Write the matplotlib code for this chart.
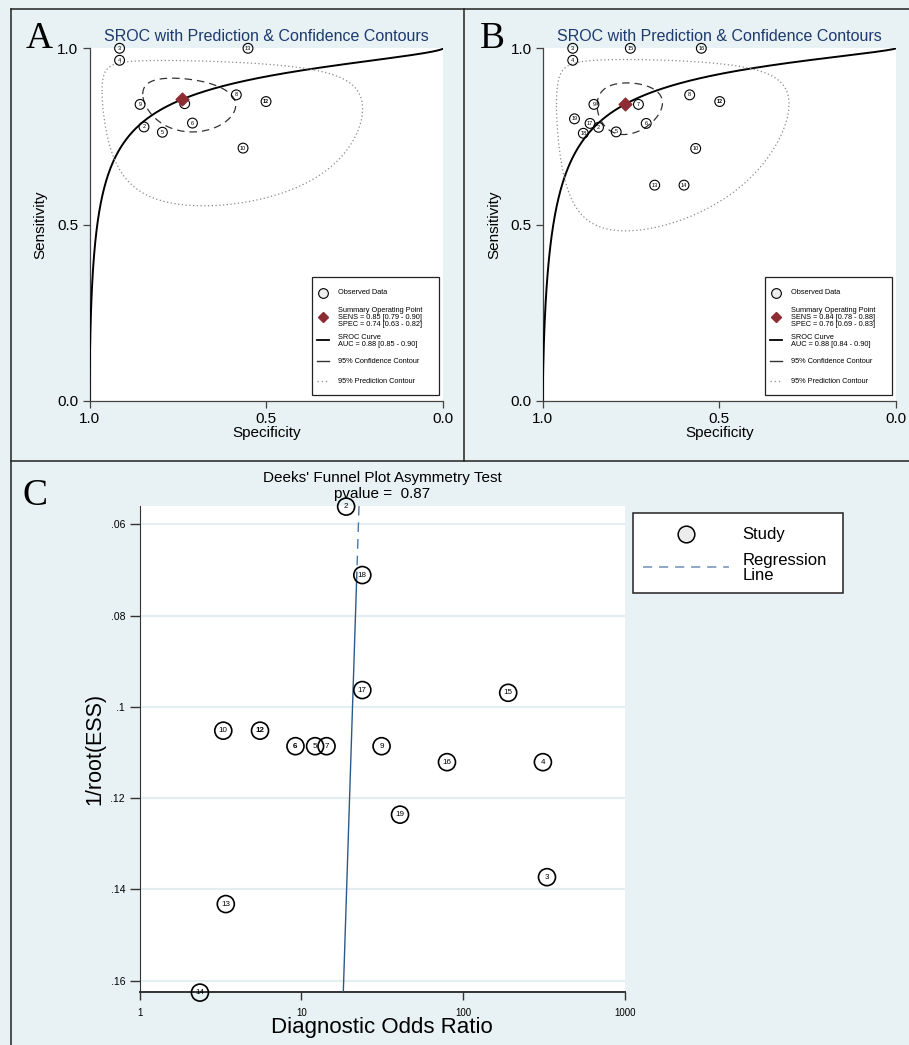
import numpy as np
import matplotlib
matplotlib.use("Agg")
import matplotlib.pyplot as plt
from matplotlib.lines import Line2D
from matplotlib.patches import Rectangle

plt.rcParams["font.family"] = ["Liberation Sans", "DejaVu Sans"]

W, H = 909, 1045
BG = "#e8f1f3"
NAVY = "#1d3a6e"
RED = "#8e2c33"

# Panel A: study id, specificity, sensitivity
a_ids = [3, 4, 13, 9, 7, 8, 12, 2, 5, 6, 10]
a_spec = [0.915, 0.915, 0.552, 0.857, 0.731, 0.585, 0.501, 0.846, 0.794, 0.709, 0.566]
a_sens = [1.0, 0.966, 1.0, 0.841, 0.843, 0.868, 0.849, 0.777, 0.762, 0.788, 0.717]
a_summary = (0.739, 0.855)        # spec, sens
a_sroc = (2.444, 0.644)           # logit(sens) = a + b*logit(1-spec)
a_conf = (0.69, 0.606, 0.21)      # half-width logit spec, logit sens, correlation
a_pred = (2.26, 1.56, 0.13)
a_text = ["SENS = 0.85 [0.79 - 0.90]", "SPEC = 0.74 [0.63 - 0.82]",
          "AUC = 0.88 [0.85 - 0.90]"]

# Panel B
b_ids = [3, 4, 15, 16, 9, 7, 8, 12, 19, 17, 2, 18, 5, 6, 10, 13, 14]
b_spec = [0.915, 0.915, 0.752, 0.551, 0.855, 0.729, 0.584, 0.499, 0.910,
          0.866, 0.842, 0.885, 0.792, 0.707, 0.567, 0.683, 0.600]
b_sens = [1.0, 0.966, 1.0, 1.0, 0.841, 0.841, 0.868, 0.849, 0.800,
          0.787, 0.776, 0.759, 0.763, 0.787, 0.716, 0.612, 0.612]
b_summary = (0.766, 0.842)
b_sroc = (2.538, 0.730)
b_conf = (0.518, 0.545, -0.05)
b_pred = (2.02, 1.744, 0.0)
b_text = ["SENS = 0.84 [0.78 - 0.88]", "SPEC = 0.76 [0.69 - 0.83]",
          "AUC = 0.88 [0.84 - 0.90]"]

# Panel C: Deeks' funnel plot
c_ids = [2, 18, 17, 15, 10, 12, 6, 5, 7, 9, 16, 4, 19, 3, 13, 14]
c_dor = [18.9, 23.8, 23.8, 189.7, 3.29, 5.55, 9.19, 12.15, 14.3, 31.3,
         79.4, 310.9, 40.7, 329.5, 3.41, 2.36]
c_ess = [0.0561, 0.0711, 0.0963, 0.0969, 0.1052, 0.1052, 0.1086, 0.1086,
         0.1086, 0.1086, 0.1121, 0.1121, 0.1236, 0.1373, 0.1432, 0.1626]
c_bold = [6, 12]
c_reg = (1.407, -0.911)           # log10(DOR) = a + b * 1/root(ESS)
c_pvalue = 0.87
c_yticks = [0.06, 0.08, 0.10, 0.12, 0.14, 0.16]
c_ylabels = [".06", ".08", ".1", ".12", ".14", ".16"]


def logit(p):
    return np.log(p / (1 - p))


def invlogit(z):
    return 1 / (1 + np.exp(-z))


def fx(px):
    return px / W


def fy(py):
    return 1 - py / H


def contour(ax, summary, params, **kw):
    r_sp, r_se, rho = params
    t = np.linspace(0, 2 * np.pi, 400)
    lsp = logit(summary[0]) + r_sp * np.cos(t)
    lse = logit(summary[1]) + r_se * (rho * np.cos(t) + np.sqrt(1 - rho ** 2) * np.sin(t))
    ax.plot(invlogit(lsp), invlogit(lse), **kw)


def sroc_legend(ax, text):
    tr = ax.transAxes
    ax.add_patch(Rectangle((0.630, 0.017), 0.359, 0.334, transform=tr,
                           facecolor="white", edgecolor="#222", lw=0.9, zorder=7))
    hx, tx, fs = 0.661, 0.702, 5.3
    kw = dict(transform=tr, zorder=8, clip_on=False)
    ax.plot([hx], [0.307], marker="o", ms=7, mfc="#eeeeee", mec="black", mew=0.8, **kw)
    ax.plot([hx], [0.238], marker="D", ms=5.5, color=RED, **kw)
    ax.plot([hx - 0.017, hx + 0.017], [0.173] * 2, color="black", lw=1.3, **kw)
    ax.plot([hx - 0.017, hx + 0.017], [0.1126] * 2, color="#333", lw=1.0, **kw)
    ax.plot([hx - 0.017, hx + 0.017], [0.0559] * 2, color="#999", lw=1.0,
            ls=(0, (1, 2)), **kw)
    tkw = dict(transform=tr, fontsize=fs, va="center", ha="left", zorder=8,
               linespacing=1.0)
    ax.text(tx, 0.307, "Observed Data", **tkw)
    ax.text(tx, 0.238, "Summary Operating Point\n" + text[0] + "\n" + text[1], **tkw)
    ax.text(tx, 0.169, "SROC Curve\n" + text[2], **tkw)
    ax.text(tx, 0.1126, "95% Confidence Contour", **tkw)
    ax.text(tx, 0.0559, "95% Prediction Contour", **tkw)


def sroc_panel(ax, ids, spec, sens, summary, sroc, conf, pred, text):
    ax.set_facecolor("white")
    fpr = np.concatenate([np.logspace(-8, -1, 400), np.linspace(0.1, 1 - 1e-6, 400)])
    ax.plot(1 - fpr, invlogit(sroc[0] + sroc[1] * logit(fpr)), color="black",
            lw=1.4, zorder=3)
    contour(ax, summary, conf, color="#333", lw=0.9, ls=(0, (6, 4)), zorder=3)
    contour(ax, summary, pred, color="#8a8a8a", lw=0.9, ls=(0, (1, 2)), zorder=3)
    ax.scatter(spec, sens, s=50, facecolor="none", edgecolor="black", lw=0.8,
               zorder=4, clip_on=False)
    for i, x, y in zip(ids, spec, sens):
        ax.text(x, y, str(i), fontsize=4, ha="center", va="center", zorder=5,
                fontweight="bold" if i == 12 else "normal")
    ax.scatter([summary[0]], [summary[1]], marker="D", s=42, color=RED, zorder=6)
    ax.set_xlim(1, 0)
    ax.set_ylim(0, 1)
    ax.set_xticks([1.0, 0.5, 0.0])
    ax.set_yticks([0.0, 0.5, 1.0])
    ax.set_xticklabels(["1.0", "0.5", "0.0"])
    ax.set_yticklabels(["0.0", "0.5", "1.0"])
    for s in ["top", "right"]:
        ax.spines[s].set_visible(False)
    for s in ["left", "bottom"]:
        ax.spines[s].set_color("#444")
        ax.spines[s].set_linewidth(0.9)
    ax.tick_params(labelsize=11, length=5, width=0.9, color="#444", pad=3)
    ax.set_xlabel("Specificity", fontsize=11)
    ax.set_ylabel("Sensitivity", fontsize=11)
    ax.xaxis.set_label_coords(0.5, -0.072)
    ax.yaxis.set_label_coords(-0.118, 0.5)
    ax.set_title("SROC with Prediction & Confidence Contours", fontsize=11.5,
                 color=NAVY, pad=5)
    sroc_legend(ax, text)


fig = plt.figure(figsize=(W / 100, H / 100), dpi=100, facecolor=BG)

ax_a = fig.add_axes([fx(89.5), fy(401), (443.3 - 89.5) / W, (401 - 48.3) / H])
sroc_panel(ax_a, a_ids, a_spec, a_sens, a_summary, a_sroc, a_conf, a_pred, a_text)

ax_b = fig.add_axes([fx(542.7), fy(401), (896 - 542.7) / W, (401 - 48.3) / H])
sroc_panel(ax_b, b_ids, b_spec, b_sens, b_summary, b_sroc, b_conf, b_pred, b_text)

# Panel C
ax_c = fig.add_axes([fx(139.6), fy(991.7), (625 - 139.6) / W, (991.7 - 505.7) / H])
ax_c.set_facecolor("white")
ax_c.set_xscale("log")
ax_c.set_xlim(1, 1000)
ax_c.set_ylim(0.1624, 0.0559)
ax_c.set_yticks(c_yticks)
ax_c.set_yticklabels(c_ylabels)
ax_c.set_xticks([1, 10, 100, 1000])
ax_c.set_xticklabels(["1", "10", "100", "1000"])
ax_c.xaxis.set_minor_locator(matplotlib.ticker.NullLocator())
ax_c.grid(axis="y", color="#e4eef2", lw=1.6)
ax_c.set_axisbelow(True)
for s in ["top", "right"]:
    ax_c.spines[s].set_visible(False)
ax_c.spines["left"].set_color("#333")
ax_c.spines["bottom"].set_color("#333")
ax_c.spines["bottom"].set_linewidth(1.4)
ax_c.tick_params(axis="y", labelsize=7.5, length=7, width=1, color="#333")
ax_c.tick_params(axis="x", labelsize=7, length=6, width=1, color="#333", pad=6)

y_dash = np.array([0.0559, 0.0705])
y_solid = np.array([0.0705, 0.1624])
ax_c.plot(10 ** (c_reg[0] + c_reg[1] * y_dash), y_dash, color="#4a78a8", lw=1,
          ls=(0, (7, 5)), zorder=3)
ax_c.plot(10 ** (c_reg[0] + c_reg[1] * y_solid), y_solid, color="#2c5a88", lw=1,
          zorder=3)

ax_c.scatter(c_dor, c_ess, s=150, facecolor="none", edgecolor="black", lw=1.2,
             zorder=4, clip_on=False)
for i, x, y in zip(c_ids, c_dor, c_ess):
    ax_c.text(x, y, str(i), fontsize=5.8, ha="center", va="center", zorder=5,
              fontweight="bold" if i in c_bold else "normal")

ax_c.set_xlabel("Diagnostic Odds Ratio", fontsize=16)
ax_c.set_ylabel("1/root(ESS)", fontsize=15.5)
ax_c.xaxis.set_label_coords(0.5, -0.052)
ax_c.yaxis.set_label_coords(-0.071, 0.5)

fig.text(fx(382), fy(478), "Deeks' Funnel Plot Asymmetry Test", fontsize=11,
         ha="center", va="center")
fig.text(fx(382), fy(494), "pvalue =  %.2f" % c_pvalue, fontsize=11,
         ha="center", va="center")

# Panel C legend
fig.patches.append(Rectangle((fx(632.7), fy(593.3)), (842.7 - 632.7) / W,
                             (593.3 - 513.3) / H, transform=fig.transFigure,
                             facecolor="white", edgecolor="#222", lw=1.1))
fig.add_artist(Line2D([fx(686)], [fy(534)], marker="o", ms=12, mfc="#ececec",
                      mec="black", mew=1.1, transform=fig.transFigure))
fig.add_artist(Line2D([fx(643), fx(729)], [fy(566.7)] * 2, color="#6f8fb3",
                      lw=1.1, ls=(0, (6, 4.5)), transform=fig.transFigure))
fig.text(fx(742.7), fy(534), "Study", fontsize=12, ha="left", va="center")
fig.text(fx(742.7), fy(568), "Regression\nLine", fontsize=12, ha="left",
         va="center", linespacing=0.95)

# Panel letters
for letter, x, y in [("A", 26, 48), ("B", 480, 48), ("C", 23, 505)]:
    fig.text(fx(x), fy(y), letter, fontsize=27, family="Liberation Serif",
             ha="left", va="baseline")

# Panel borders
for xs, ys in [([11, 909], [9, 9]), ([11, 11], [9, 1045]),
               ([464, 464], [9, 461]), ([11, 909], [461, 461])]:
    fig.add_artist(Line2D([fx(v) for v in xs], [fy(v) for v in ys], color="#222",
                          lw=1.1, transform=fig.transFigure))

fig.savefig("out.png", dpi=100, facecolor=BG)
